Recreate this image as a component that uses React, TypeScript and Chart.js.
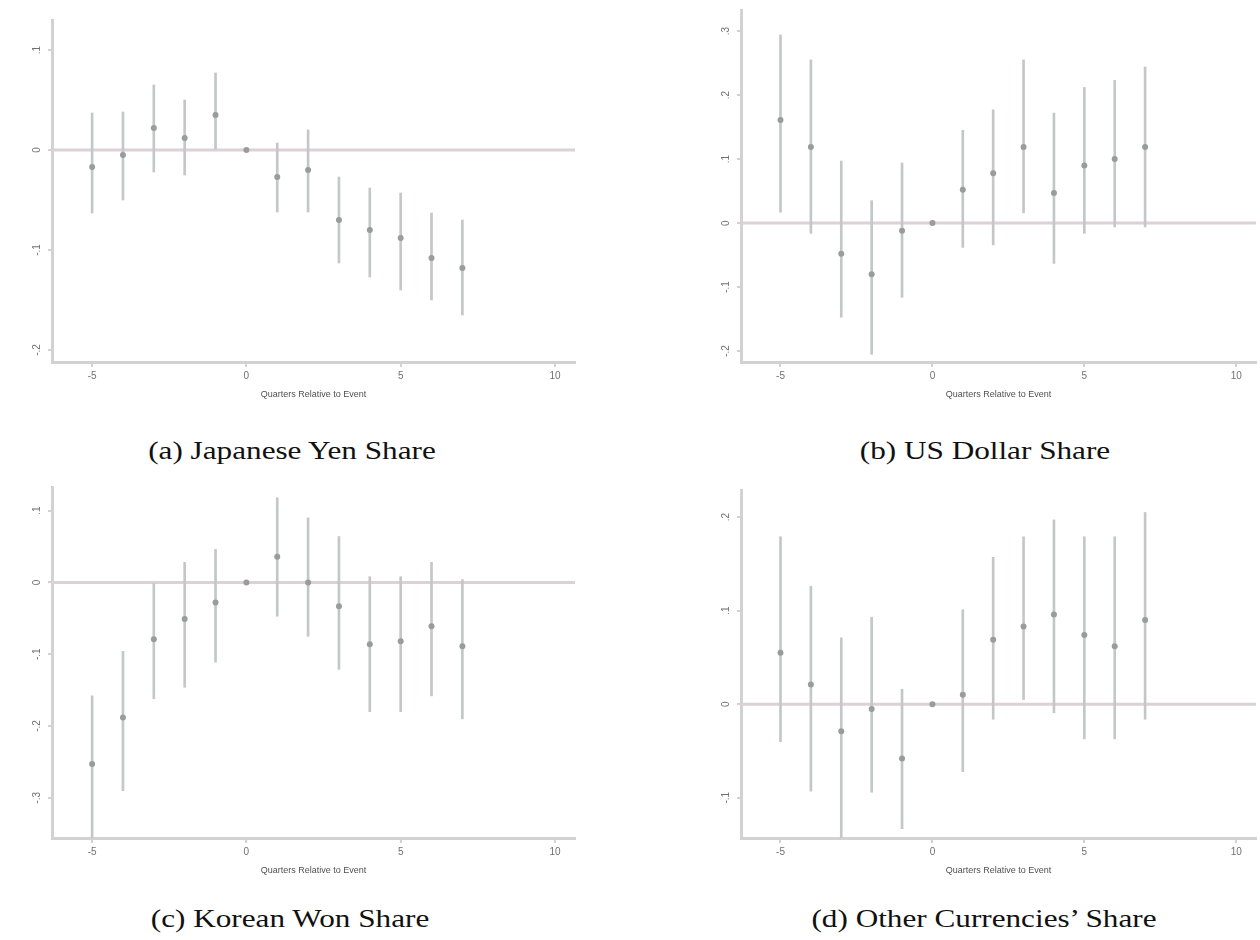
import React, { useEffect, useRef } from "react";
import { Chart, registerables } from "chart.js";

Chart.register(...registerables);

// ---------- shared data ----------
const eventTimes = [-5, -4, -3, -2, -1, 0, 1, 2, 3, 4, 5, 6, 7];
const xTicks = [-5, 0, 5, 10];
const xTitle = "Quarters Relative to Event";
const xMin = -6.3;
const xMax = 10.65;

// (a) Japanese Yen Share
const yenEst = [-0.017, -0.005, 0.022, 0.012, 0.035, 0, -0.027, -0.02, -0.07, -0.08, -0.088, -0.108, -0.118];
const yenLo = [-0.063, -0.05, -0.022, -0.025, 0.0, 0, -0.062, -0.062, -0.113, -0.127, -0.14, -0.15, -0.165];
const yenHi = [0.037, 0.038, 0.065, 0.05, 0.077, 0, 0.007, 0.02, -0.027, -0.038, -0.043, -0.063, -0.07];
const yenTicks = [0.1, 0, -0.1, -0.2];
const yenTickLabels = [".1", "0", "-.1", "-.2"];

// (b) US Dollar Share
const usdEst = [0.161, 0.119, -0.048, -0.08, -0.012, 0, 0.052, 0.078, 0.119, 0.047, 0.09, 0.1, 0.119];
const usdLo = [0.017, -0.016, -0.147, -0.205, -0.116, 0, -0.038, -0.034, 0.016, -0.063, -0.016, -0.006, -0.006];
const usdHi = [0.294, 0.255, 0.097, 0.035, 0.094, 0, 0.145, 0.177, 0.255, 0.172, 0.212, 0.223, 0.244];
const usdTicks = [0.3, 0.2, 0.1, 0, -0.1, -0.2];
const usdTickLabels = [".3", ".2", ".1", "0", "-.1", "-.2"];

// (c) Korean Won Share
const krwEst = [-0.253, -0.188, -0.079, -0.051, -0.028, 0, 0.036, 0.0, -0.033, -0.086, -0.082, -0.061, -0.089];
const krwLo = [-0.36, -0.29, -0.162, -0.146, -0.111, 0, -0.047, -0.075, -0.121, -0.18, -0.18, -0.158, -0.19];
const krwHi = [-0.158, -0.096, 0.0, 0.028, 0.046, 0, 0.118, 0.09, 0.064, 0.008, 0.008, 0.028, 0.004];
const krwTicks = [0.1, 0, -0.1, -0.2, -0.3];
const krwTickLabels = [".1", "0", "-.1", "-.2", "-.3"];

// (d) Other Currencies' Share
const othEst = [0.055, 0.021, -0.029, -0.005, -0.058, 0, 0.01, 0.069, 0.083, 0.096, 0.074, 0.062, 0.09];
const othLo = [-0.04, -0.093, -0.144, -0.094, -0.133, 0, -0.072, -0.016, 0.005, -0.009, -0.037, -0.037, -0.016];
const othHi = [0.179, 0.126, 0.071, 0.093, 0.016, 0, 0.101, 0.157, 0.179, 0.197, 0.179, 0.179, 0.205];
const othTicks = [0.2, 0.1, 0, -0.1];
const othTickLabels = [".2", ".1", "0", "-.1"];

const captions = [
  "(a) Japanese Yen Share",
  "(b) US Dollar Share",
  "(c) Korean Won Share",
  "(d) Other Currencies\u2019 Share",
];

// ---------- styling ----------
const ciColor = "#c3c7c7";
const dotColor = "#9a9c9c";
const zeroColor = "#ddd0d6";
const axisColor = "#d2d2d2";
const tickLabelColor = "#707070";
const sansFamily = "'Liberation Sans', Arial, sans-serif";

const rotYPlugin = {
  id: "rotY",
  afterDraw(chart: any, _args: any, opts: any) {
    const s = chart.scales.y;
    const ctx = chart.ctx;
    ctx.save();
    ctx.fillStyle = tickLabelColor;
    ctx.font = "10px " + sansFamily;
    ctx.textAlign = "center";
    ctx.textBaseline = "middle";
    const vals: number[] = opts.values || [];
    const labs: string[] = opts.labels || [];
    vals.forEach((v, i) => {
      const y = s.getPixelForValue(v);
      ctx.save();
      ctx.translate(chart.chartArea.left - 15, y);
      ctx.rotate(-Math.PI / 2);
      ctx.fillText(labs[i], 0, 0);
      ctx.restore();
    });
    ctx.restore();
  },
};

type PanelProps = {
  left: number;
  top: number;
  width: number;
  height: number;
  area: { left: number; top: number; right: number; bottom: number };
  est: number[];
  lo: number[];
  hi: number[];
  yMin: number;
  yMax: number;
  yTicks: number[];
  yTickLabels: string[];
};

const X_AXIS_H = 38;

function Panel(p: PanelProps) {
  const ref = useRef<HTMLCanvasElement | null>(null);
  useEffect(() => {
    if (!ref.current) return;
    const chart = new Chart(ref.current, {
      type: "bar",
      data: {
        datasets: [
          {
            type: "line",
            data: [
              { x: xMin, y: 0 },
              { x: xMax, y: 0 },
            ],
            borderColor: zeroColor,
            borderWidth: 3,
            pointRadius: 0,
            order: 3,
          } as any,
          {
            type: "bar",
            data: eventTimes.map((t, i) => ({ x: t, y: [p.lo[i], p.hi[i]] })),
            backgroundColor: ciColor,
            barThickness: 2,
            borderWidth: 0,
            order: 2,
          } as any,
          {
            type: "scatter",
            data: eventTimes.map((t, i) => ({ x: t, y: p.est[i] })),
            backgroundColor: dotColor,
            borderWidth: 0,
            pointRadius: 3,
            order: 1,
          } as any,
        ],
      },
      options: {
        responsive: false,
        animation: false,
        layout: {
          padding: {
            left: 0,
            top: p.area.top,
            right: p.width - p.area.right,
            bottom: p.height - p.area.bottom - X_AXIS_H,
          },
        },
        plugins: {
          legend: { display: false },
          tooltip: { enabled: false },
          rotY: { values: p.yTicks, labels: p.yTickLabels },
        } as any,
        scales: {
          x: {
            type: "linear",
            min: xMin,
            max: xMax,
            offset: false,
            afterBuildTicks: (s: any) => {
              s.ticks = xTicks.map((v) => ({ value: v }));
            },
            afterFit: (s: any) => {
              s.height = X_AXIS_H;
            },
            grid: {
              display: true,
              offset: false,
              drawOnChartArea: false,
              drawTicks: true,
              tickLength: 5,
              color: axisColor,
              lineWidth: 2,
            },
            border: { display: true, color: axisColor, width: 3 },
            ticks: {
              color: tickLabelColor,
              font: { size: 10, family: sansFamily },
              padding: 3,
              maxRotation: 0,
              callback: (v: any) => String(v),
            },
            title: {
              display: true,
              text: xTitle,
              color: "#505050",
              font: { size: 9, family: sansFamily },
              padding: { top: 3, bottom: 0 },
            },
          },
          y: {
            type: "linear",
            min: p.yMin,
            max: p.yMax,
            afterBuildTicks: (s: any) => {
              s.ticks = p.yTicks.map((v) => ({ value: v }));
            },
            afterFit: (s: any) => {
              s.width = p.area.left;
            },
            grid: {
              display: true,
              drawOnChartArea: false,
              drawTicks: true,
              tickLength: 4,
              color: axisColor,
              lineWidth: 2,
            },
            border: { display: true, color: axisColor, width: 3 },
            ticks: { display: false },
          },
        },
      } as any,
      plugins: [rotYPlugin as any],
    });
    return () => chart.destroy();
  }, []);
  return (
    <canvas
      ref={ref}
      width={p.width}
      height={p.height}
      style={{ position: "absolute", left: p.left, top: p.top, width: p.width, height: p.height }}
    />
  );
}

function Caption({ text, cx, cy }: { text: string; cx: number; cy: number }) {
  return (
    <div
      style={{
        position: "absolute",
        left: cx - 250,
        top: cy - 16,
        width: 500,
        height: 32,
        lineHeight: "32px",
        textAlign: "center",
        fontFamily: "'Liberation Serif', 'DejaVu Serif', serif",
        fontSize: 26,
        color: "#111",
        whiteSpace: "nowrap",
        transform: "scaleX(1.2)",
      }}
    >
      {text}
    </div>
  );
}

export default function App() {
  return (
    <div
      style={{
        position: "absolute",
        left: 0,
        top: 0,
        width: 1260,
        height: 940,
        background: "#fff",
        overflow: "hidden",
      }}
    >
      <Panel
        left={0}
        top={0}
        width={600}
        height={420}
        area={{ left: 52, top: 20, right: 575, bottom: 362 }}
        est={yenEst}
        lo={yenLo}
        hi={yenHi}
        yMin={-0.212}
        yMax={0.13}
        yTicks={yenTicks}
        yTickLabels={yenTickLabels}
      />
      <Panel
        left={690}
        top={0}
        width={570}
        height={420}
        area={{ left: 51, top: 10, right: 568, bottom: 362 }}
        est={usdEst}
        lo={usdLo}
        hi={usdHi}
        yMin={-0.217}
        yMax={0.333}
        yTicks={usdTicks}
        yTickLabels={usdTickLabels}
      />
      <Panel
        left={0}
        top={470}
        width={600}
        height={420}
        area={{ left: 52, top: 17, right: 575, bottom: 368 }}
        est={krwEst}
        lo={krwLo}
        hi={krwHi}
        yMin={-0.356}
        yMax={0.133}
        yTicks={krwTicks}
        yTickLabels={krwTickLabels}
      />
      <Panel
        left={690}
        top={470}
        width={570}
        height={420}
        area={{ left: 51, top: 20, right: 568, bottom: 368 }}
        est={othEst}
        lo={othLo}
        hi={othHi}
        yMin={-0.143}
        yMax={0.229}
        yTicks={othTicks}
        yTickLabels={othTickLabels}
      />
      <Caption text={captions[0]} cx={292} cy={451} />
      <Caption text={captions[1]} cx={985} cy={451} />
      <Caption text={captions[2]} cx={290} cy={919} />
      <Caption text={captions[3]} cx={984} cy={919} />
    </div>
  );
}
